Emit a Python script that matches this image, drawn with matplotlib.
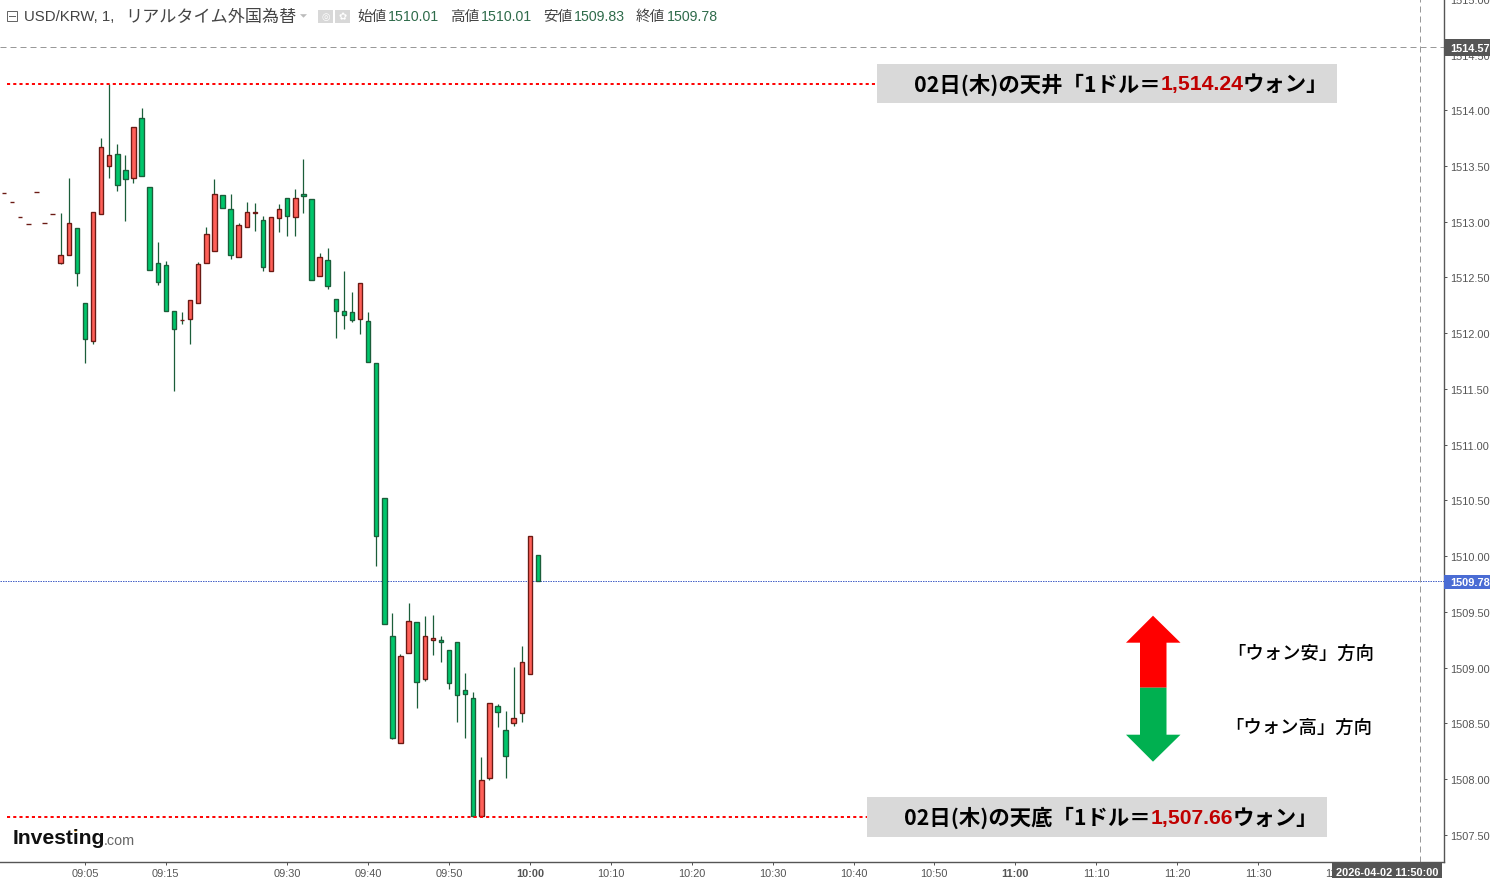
import numpy as np
import matplotlib
matplotlib.use('Agg')
import matplotlib.pyplot as plt
from matplotlib.patches import Polygon, Rectangle

plt.rcParams['font.family'] = ['Liberation Sans', 'Noto Sans CJK JP', 'DejaVu Sans']
JP = ['Noto Sans CJK JP', 'DejaVu Sans']

# one candle per minute, offset from 10:00 (red = up, green = down)
minutes = np.arange(-65, 2)
opens = [1513.26, 1513.18, 1513.04, 1512.98, 1513.27, 1512.99, 1513.07,
         1512.63, 1512.70, 1512.94, 1512.27, 1511.93, 1513.07, 1513.50, 1513.61, 1513.46, 1513.39,
         1513.93, 1513.31, 1512.63, 1512.61, 1512.20, 1512.12, 1512.13, 1512.27, 1512.63, 1512.74,
         1513.24, 1513.11, 1512.68, 1512.95, 1513.08, 1513.02, 1512.56, 1513.03, 1513.21, 1513.04,
         1513.25, 1513.20, 1512.51, 1512.66, 1512.31, 1512.20, 1512.19, 1512.13, 1512.11, 1511.73,
         1510.52, 1509.28, 1508.32, 1509.13, 1509.41, 1508.90, 1509.25, 1509.25, 1509.16, 1509.23,
         1508.80, 1508.73, 1507.67, 1508.01, 1508.66, 1508.44, 1508.50, 1508.59, 1508.94, 1510.01]
highs = [1513.26, 1513.18, 1513.04, 1512.98, 1513.27, 1512.99, 1513.07,
         1513.08, 1513.39, 1512.94, 1512.27, 1513.09, 1513.75, 1514.24, 1513.70, 1513.60, 1513.85,
         1514.02, 1513.31, 1512.82, 1512.65, 1512.20, 1512.19, 1512.30, 1512.64, 1512.95, 1513.38,
         1513.24, 1513.25, 1512.99, 1513.18, 1513.17, 1513.05, 1513.04, 1513.16, 1513.21, 1513.29,
         1513.56, 1513.20, 1512.72, 1512.76, 1512.31, 1512.56, 1512.37, 1512.45, 1512.19, 1511.73,
         1510.52, 1509.49, 1509.12, 1509.58, 1509.41, 1509.46, 1509.47, 1509.28, 1509.16, 1509.23,
         1508.95, 1508.78, 1508.20, 1508.68, 1508.67, 1508.61, 1509.01, 1509.19, 1510.18, 1510.01]
lows = [1513.26, 1513.18, 1513.04, 1512.98, 1513.27, 1512.99, 1513.07,
        1512.62, 1512.70, 1512.42, 1511.73, 1511.90, 1513.07, 1513.39, 1513.28, 1513.01, 1513.35,
        1513.41, 1512.57, 1512.43, 1512.20, 1511.48, 1512.08, 1511.90, 1512.27, 1512.63, 1512.74,
        1513.12, 1512.67, 1512.68, 1512.95, 1512.92, 1512.56, 1512.56, 1512.91, 1512.87, 1512.87,
        1513.08, 1512.48, 1512.51, 1512.40, 1511.96, 1512.04, 1512.10, 1511.99, 1511.74, 1509.91,
        1509.39, 1508.36, 1508.32, 1509.13, 1508.64, 1508.88, 1509.11, 1509.05, 1508.81, 1508.51,
        1508.37, 1507.66, 1507.66, 1507.99, 1508.47, 1508.01, 1508.48, 1508.51, 1508.94, 1509.78]
closes = [1513.26, 1513.18, 1513.04, 1512.98, 1513.27, 1512.99, 1513.07,
          1512.70, 1512.99, 1512.54, 1511.95, 1513.09, 1513.67, 1513.60, 1513.33, 1513.38, 1513.85,
          1513.41, 1512.57, 1512.46, 1512.20, 1512.04, 1512.12, 1512.30, 1512.62, 1512.89, 1513.25,
          1513.12, 1512.70, 1512.97, 1513.09, 1513.09, 1512.59, 1513.04, 1513.11, 1513.05, 1513.21,
          1513.23, 1512.48, 1512.68, 1512.42, 1512.20, 1512.16, 1512.12, 1512.45, 1511.74, 1510.18,
          1509.39, 1508.37, 1509.10, 1509.42, 1508.87, 1509.28, 1509.27, 1509.23, 1508.86, 1508.75,
          1508.76, 1507.67, 1507.99, 1508.68, 1508.60, 1508.21, 1508.55, 1509.05, 1510.18, 1509.78]

price_ticks = [1507.5, 1508.0, 1508.5, 1509.0, 1509.5, 1510.0, 1510.5, 1511.0,
               1511.5, 1512.0, 1512.5, 1513.0, 1513.5, 1514.0, 1514.5, 1515.0]
time_ticks = [-55, -45, -30, -20, -10, 0, 10, 20, 30, 40, 50, 60, 70, 80, 90, 100]
time_labels = ['09:05', '09:15', '09:30', '09:40', '09:50', '10:00', '10:10', '10:20',
               '10:30', '10:40', '10:50', '11:00', '11:10', '11:20', '11:30', '11:40']

day_high = 1514.24
day_low = 1507.66
last_price = 1509.78
cross_price = 1514.57
cross_minute = 110

W, H = 1490, 879
PX = 0.72  # one pixel in points at dpi 100
ZERO_X = 529.9
PER_MIN = 8.09
AXIS_GREY = '#555555'


def to_minute(px):
    return (px - ZERO_X) / PER_MIN


fig = plt.figure(figsize=(W / 100, H / 100), dpi=100, facecolor='white')
ax = fig.add_axes([0, (H - 862.5) / H, 1443.5 / W, 863.1 / H])
ax.set_xlim(to_minute(0), to_minute(1443.5))
ax.set_ylim(1514 - (862.5 - 110.8) / 111.54, 1515.0036)

# candles
opens, highs, lows, closes = map(np.array, (opens, highs, lows, closes))
up = closes >= opens
ax.vlines(minutes, lows, highs, color='#1B5E3A', lw=PX * 1.25, zorder=2)
ax.bar(minutes[up], (closes - opens)[up], bottom=opens[up], width=0.55,
       facecolor='#FF6058', edgecolor='#6B1A14', linewidth=PX * 1.35, zorder=3)
ax.bar(minutes[~up], (closes - opens)[~up], bottom=opens[~up], width=0.55,
       facecolor='#00C66B', edgecolor='#1B5E3A', linewidth=PX * 1.35, zorder=3)

# high / low guides, last price and crosshair
ax.plot([to_minute(7), to_minute(875)], [day_high, day_high], color='#FF0000', lw=1.4,
        dashes=(1.6, 1.6), zorder=4)
ax.plot([to_minute(7), to_minute(867)], [day_low, day_low], color='#FF0000', lw=1.4,
        dashes=(1.6, 1.6), zorder=4)
ax.axhline(last_price, color='#4A66C8', lw=PX, dashes=(1.5, 1), zorder=1)
ax.axhline(cross_price, color='#999999', lw=PX, dashes=(6, 4), zorder=1)
ax.axvline(cross_minute, color='#999999', lw=PX, dashes=(6, 4), zorder=1)

# axes
for side in ('left', 'top'):
    ax.spines[side].set_visible(False)
for side in ('right', 'bottom'):
    ax.spines[side].set_color(AXIS_GREY)
    ax.spines[side].set_linewidth(1.0)
ax.yaxis.tick_right()
ax.set_yticks(price_ticks)
ax.set_yticklabels([f'{p:.2f}' for p in price_ticks])
ax.set_xticks(time_ticks)
ax.set_xticklabels(time_labels)
ax.tick_params(axis='y', length=2.5, width=PX, color=AXIS_GREY, labelcolor=AXIS_GREY,
               labelsize=7.9, pad=2.4)
ax.tick_params(axis='x', length=2.5, width=PX, color=AXIS_GREY, labelcolor=AXIS_GREY,
               labelsize=7.9, pad=2.4)
for lab, txt in zip(ax.get_xticklabels(), time_labels):
    if txt in ('10:00', '11:00'):
        lab.set_fontweight('bold')

# overlay in picture pixels for boxes, notes and the header
ov = fig.add_axes([0, 0, 1, 1], facecolor='none')
ov.set_xlim(0, W)
ov.set_ylim(H - 0.7, -0.7)
ov.axis('off')


def box(x0, y0, x1, y1, color):
    ov.add_patch(Rectangle((x0, y0), x1 - x0, y1 - y0, facecolor=color, edgecolor='none'))


# price flags on the axis
box(1443.5, 39.5, 1490, 56, AXIS_GREY)
ov.text(1450, 48, f'{cross_price:.2f}', color='white', fontsize=7.9, fontweight='bold',
        ha='left', va='center')
box(1443.5, 575, 1490, 589, '#4A6CD4')
ov.text(1450, 582, f'{last_price:.2f}', color='white', fontsize=7.9, fontweight='bold',
        ha='left', va='center')
box(1332, 862, 1442, 879, AXIS_GREY)
ov.text(1387, 872, '2026-04-02 11:50:00', color='white', fontsize=7.9, fontweight='bold',
        ha='center', va='center')


def note(x0, y0, x1, y1, head, price, tail, x_price, x_tail):
    box(x0, y0, x1, y1, '#D9D9D9')
    yc = (y0 + y1) / 2 + 0.5
    ov.text(x_price, yc, head, family=JP, fontsize=15.4, fontweight='bold', color='black',
            ha='right', va='center')
    ov.text(x_price, yc, price, fontsize=15.2, fontweight='bold', color='#C00000',
            ha='left', va='center')
    ov.text(x_tail, yc, tail, family=JP, fontsize=15.4, fontweight='bold', color='black',
            ha='left', va='center')


note(877, 64, 1337, 103, '02日(木)の天井「1ドル＝', '1,514.24', 'ウォン」', 1161, 1243)
note(867, 797, 1327, 837, '02日(木)の天底「1ドル＝', '1,507.66', 'ウォン」', 1151, 1233)

# direction arrows
ov.add_patch(Polygon([(1153, 616), (1180.5, 643), (1166.5, 643), (1166.5, 688),
                      (1140, 688), (1140, 643), (1126, 643)],
                     facecolor='#FF0000', edgecolor='none'))
ov.add_patch(Polygon([(1153, 762), (1180.5, 735), (1166.5, 735), (1166.5, 688),
                      (1140, 688), (1140, 735), (1126, 735)],
                     facecolor='#00B050', edgecolor='none'))
ov.text(1301, 653, '「ウォン安」方向', family=JP, fontsize=13.2, fontweight='medium', color='black',
        ha='center', va='center')
ov.text(1299, 727, '「ウォン高」方向', family=JP, fontsize=13.2, fontweight='medium', color='black',
        ha='center', va='center')

# header
ov.add_patch(Rectangle((6.5, 11), 10, 10, facecolor='none', edgecolor='#666666', lw=PX))
ov.plot([8.5, 14.5], [16, 16], color='#666666', lw=PX)
HEAD = '#444444'
VAL = '#2E6B4A'
ov.text(24, 16, 'USD/KRW, 1, ', color=HEAD, fontsize=10.8, ha='left', va='center')
ov.text(125, 16, 'リアルタイム外国為替', family=JP, color=HEAD, fontsize=12.3,
        ha='left', va='center')
ov.add_patch(Polygon([(300, 14.5), (307, 14.5), (303.5, 18)], facecolor='#BBBBBB', edgecolor='none'))
box(318, 10, 333, 23, '#D8D8D8')
box(335, 10, 350, 23, '#D8D8D8')
ov.text(325.5, 16.5, '◎', family=['DejaVu Sans'], color='white', fontsize=7, ha='center', va='center')
ov.text(342.5, 16.5, '✿', family=['DejaVu Sans'], color='white', fontsize=7, ha='center', va='center')
for x_lab, lab, val in [(357, '始値', '1510.01'), (450, '高値', '1510.01'),
                        (543, '安値', '1509.83'), (636, '終値', '1509.78')]:
    ov.text(x_lab, 16, lab, family=JP, color=HEAD, fontsize=10.5, ha='left', va='center')
    ov.text(x_lab + 31, 16.5, val, color=VAL, fontsize=10.2, ha='left', va='center')

# logo
ov.text(13, 837.5, 'Investing', color='#111111', fontsize=15.2, fontweight='bold',
        ha='left', va='center')
ov.text(104, 840, '.com', color='#666666', fontsize=10.4, ha='left', va='center')
ov.plot([75], [830], marker='o', ms=2, color='#F5A623', mec='none')

fig.savefig('out.png', dpi=100)
